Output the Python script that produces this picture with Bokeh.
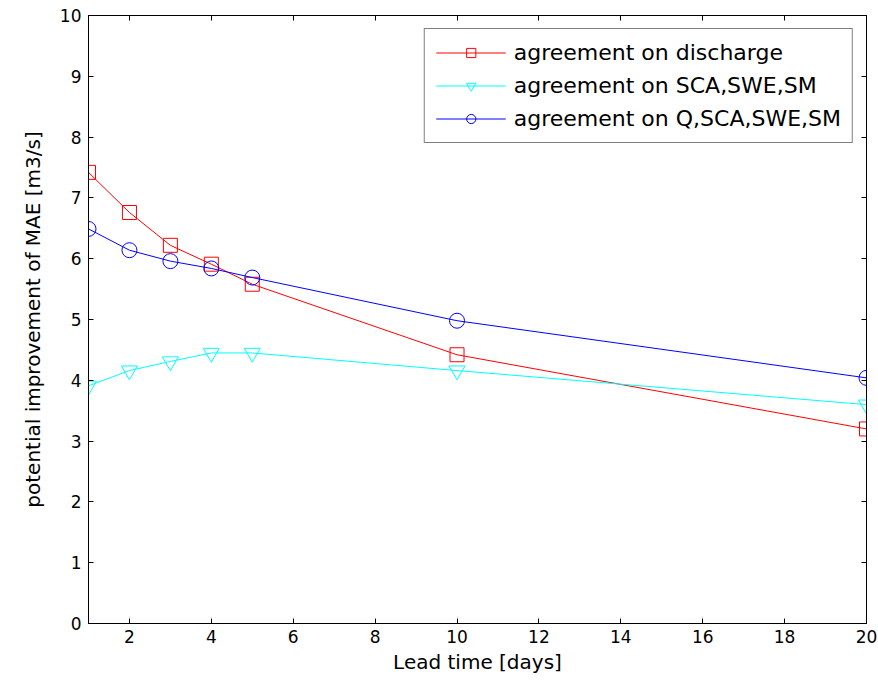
from bokeh.plotting import figure
from bokeh.models import FixedTicker, LinearAxis, Range1d, Legend, LegendItem
from bokeh.embed import file_html
from bokeh.resources import INLINE

lead_time = [1, 2, 3, 4, 5, 10, 20]
discharge = [7.42, 6.76, 6.22, 5.91, 5.58, 4.42, 3.20]
sca_swe_sm = [3.91, 4.16, 4.31, 4.45, 4.45, 4.16, 3.60]
q_sca_swe_sm = [6.49, 6.14, 5.96, 5.84, 5.69, 4.98, 4.04]
x_ticks = [2, 4, 6, 8, 10, 12, 14, 16, 18, 20]
y_ticks = [0, 1, 2, 3, 4, 5, 6, 7, 8, 9, 10]

FONT = "DejaVu Sans"

p = figure(width=878, height=687, output_backend="svg", toolbar_location=None,
           x_range=Range1d(1, 20), y_range=Range1d(0, 10),
           min_border_left=88, min_border_right=12, min_border_top=15, min_border_bottom=64)
p.grid.visible = False
p.outline_line_color = "black"
p.outline_line_width = 1
p.background_fill_color = "white"
p.border_fill_color = "white"

def style_axis(ax):
    ax.major_tick_in = 5
    ax.major_tick_out = 0
    ax.minor_tick_line_color = None
    ax.axis_line_color = "black"
    ax.major_tick_line_color = "black"
    ax.major_label_text_font = FONT
    ax.major_label_text_font_size = "17px"
    ax.major_label_text_color = "black"
    ax.axis_label_text_font = FONT
    ax.axis_label_text_font_size = "20px"
    ax.axis_label_text_font_style = "normal"
    ax.axis_label_text_color = "black"

p.xaxis.ticker = FixedTicker(ticks=x_ticks)
p.yaxis.ticker = FixedTicker(ticks=y_ticks)
style_axis(p.xaxis[0])
style_axis(p.yaxis[0])
p.xaxis.axis_label = "Lead time [days]"
p.yaxis.axis_label = "potential improvement of MAE [m3/s]"
p.xaxis.major_label_standoff = 6
p.yaxis.major_label_standoff = 7
p.xaxis.axis_label_standoff = 4
p.yaxis.axis_label_standoff = 12

top = LinearAxis(ticker=FixedTicker(ticks=x_ticks),
                 major_label_overrides={t: "" for t in x_ticks})
right = LinearAxis(ticker=FixedTicker(ticks=y_ticks),
                   major_label_overrides={t: "" for t in y_ticks})
for ax in (top, right):
    ax.major_tick_in = 5
    ax.major_tick_out = 0
    ax.minor_tick_line_color = None
    ax.major_label_text_font_size = "1px"
    ax.major_label_standoff = 0
    ax.axis_line_color = "black"
p.add_layout(top, "above")
p.add_layout(right, "right")

r1l = p.line(lead_time, discharge, line_color="red", line_width=1)
r1m = p.scatter(lead_time, discharge, marker="square", size=14, line_color="red",
                fill_color=None, line_width=1)
r2l = p.line(lead_time, sca_swe_sm, line_color="cyan", line_width=1)
r2m = p.scatter(lead_time, sca_swe_sm, marker="inverted_triangle", size=16, line_color="cyan",
                fill_color=None, line_width=1)
r3l = p.line(lead_time, q_sca_swe_sm, line_color="blue", line_width=1)
r3m = p.scatter(lead_time, q_sca_swe_sm, marker="circle", size=15, line_color="blue",
                fill_color=None, line_width=1)

legend = Legend(items=[
    LegendItem(label="agreement on discharge", renderers=[r1l, r1m]),
    LegendItem(label="agreement on SCA,SWE,SM", renderers=[r2l, r2m]),
    LegendItem(label="agreement on Q,SCA,SWE,SM", renderers=[r3l, r3m]),
], location="top_right")
legend.label_text_font = FONT
legend.label_text_font_size = "22px"
legend.label_text_color = "black"
legend.glyph_width = 70
legend.glyph_height = 23
legend.label_height = 23
legend.spacing = 8
legend.padding = 11
legend.margin = 13
legend.border_line_color = "black"
legend.border_line_width = 1
legend.background_fill_color = "white"
legend.background_fill_alpha = 1
legend.label_standoff = 8
p.add_layout(legend)

open("out.html", "w").write(file_html(p, INLINE))
